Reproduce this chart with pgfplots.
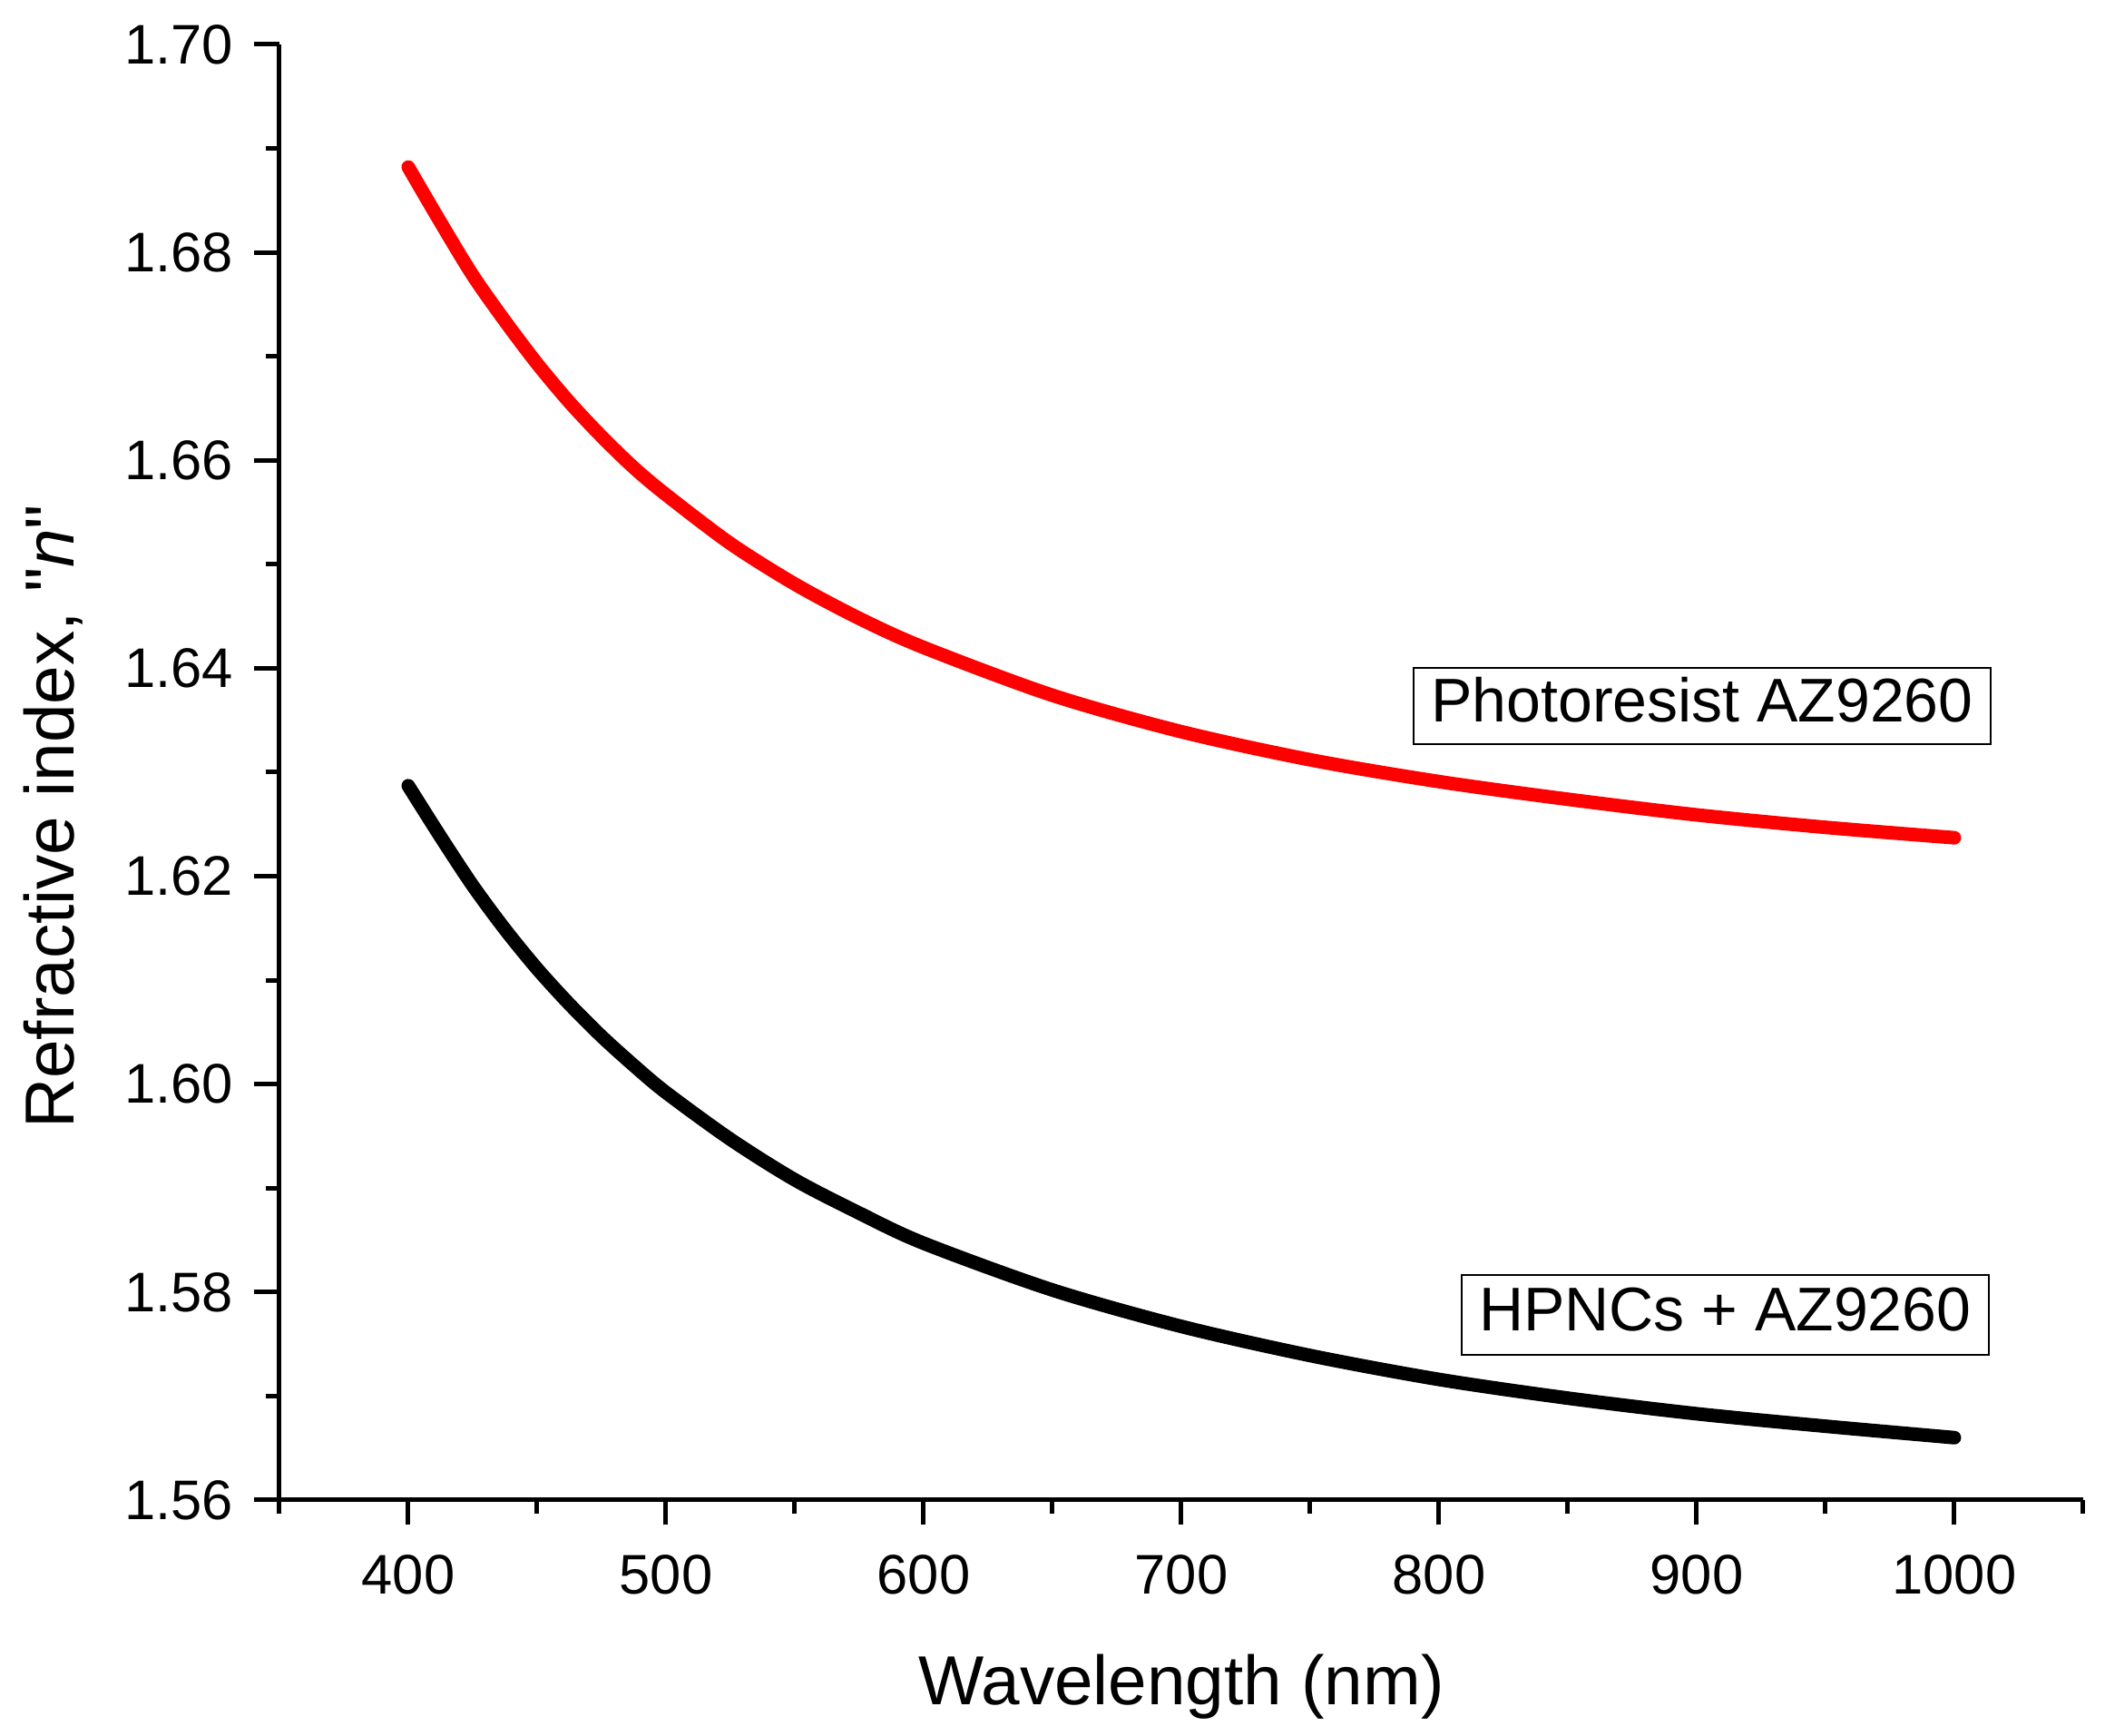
\documentclass[border=0pt]{standalone}
\usepackage{fontspec}
\setmainfont{Liberation Sans}
\newfontfamily\qfont{Liberation Sans}
\usepackage{pgfplots}
\pgfplotsset{compat=1.18}
\pgfplotstableread{
lambda n
400 1.6882
412.5 1.6829
425 1.6778
437.5 1.6734
450 1.6693
462.5 1.6656
475 1.6623
487.5 1.6593
500 1.6567
525 1.6520
550 1.6481
575 1.6448
600 1.6420
650 1.6374
700 1.6339
750 1.6312
800 1.6291
850 1.6274
900 1.6259
950 1.6247
1000 1.6237
}\redtab
\pgfplotstableread{
lambda n
400 1.6287
412.5 1.6238
425 1.6191
437.5 1.6149
450 1.6111
462.5 1.6077
475 1.6046
487.5 1.6018
500 1.5992
525 1.5947
550 1.5908
575 1.5876
600 1.5847
650 1.5802
700 1.5767
750 1.5739
800 1.5716
850 1.5698
900 1.5683
950 1.5671
1000 1.5660
}\blacktab
\begin{document}
\begin{tikzpicture}
\begin{axis}[
  scale only axis,
  width=397.6pt, height=320.8pt,
  xmin=350, xmax=1050, ymin=1.56, ymax=1.70,
  axis x line*=bottom, axis y line*=left,
  axis line style={line width=1pt, -},
  xtick={400,500,...,1000},
  minor xtick={350,450,...,1050},
  ytick={1.56,1.58,...,1.70},
  minor ytick={1.57,1.59,...,1.69},
  tick align=outside,
  major tick length=5.5pt, minor tick length=3pt,
  every tick/.style={black, line width=1pt},
  /pgf/number format/assume math mode=true,
  x tick label style={/pgf/number format/1000 sep={}, font=\fontsize{12.3}{14}\selectfont, yshift=-3pt},
  y tick label style={/pgf/number format/.cd, fixed, fixed zerofill, precision=2, /tikz/.cd, font=\fontsize{12.3}{14}\selectfont, xshift=-1.2pt},
  xlabel={Wavelength (nm)},
  ylabel={Refractive index, {\qfont"}\textit{n}{\qfont"}},
  xlabel style={font=\fontsize{15.3}{18}\selectfont, at={([yshift=-45.2pt]axis description cs:0.5,0)}, anchor=base},
  ylabel style={font=\fontsize{15.3}{18}\selectfont, at={([xshift=-45.2pt]axis description cs:0,0.4695)}, anchor=base},
  clip=false,
]
\addplot[red, line width=3pt, line cap=round, line join=round, smooth, tension=0.5] table[x=lambda, y=n] {\redtab};
\addplot[black, line width=3pt, line cap=round, line join=round, smooth, tension=0.5] table[x=lambda, y=n] {\blacktab};
\node[draw, line width=0.4pt, anchor=east, inner xsep=3.9pt, inner ysep=2.05pt, text height=9.9pt, text depth=2.8pt, font=\fontsize{13.6}{16}\selectfont] at (axis cs:1014.5,1.6364) {Photoresist AZ9260};
\node[draw, line width=0.4pt, anchor=east, inner xsep=3.9pt, inner ysep=2.4pt, text height=9.9pt, text depth=2.8pt, font=\fontsize{13.6}{16}\selectfont] at (axis cs:1013.7,1.5778) {HPNCs + AZ9260};
\coordinate (o) at (rel axis cs:0,0);
\end{axis}
\pgfresetboundingbox
\path (o) ++(-61.6pt,-52pt) rectangle ++(464pt,382.6pt);
\end{tikzpicture}
\end{document}
